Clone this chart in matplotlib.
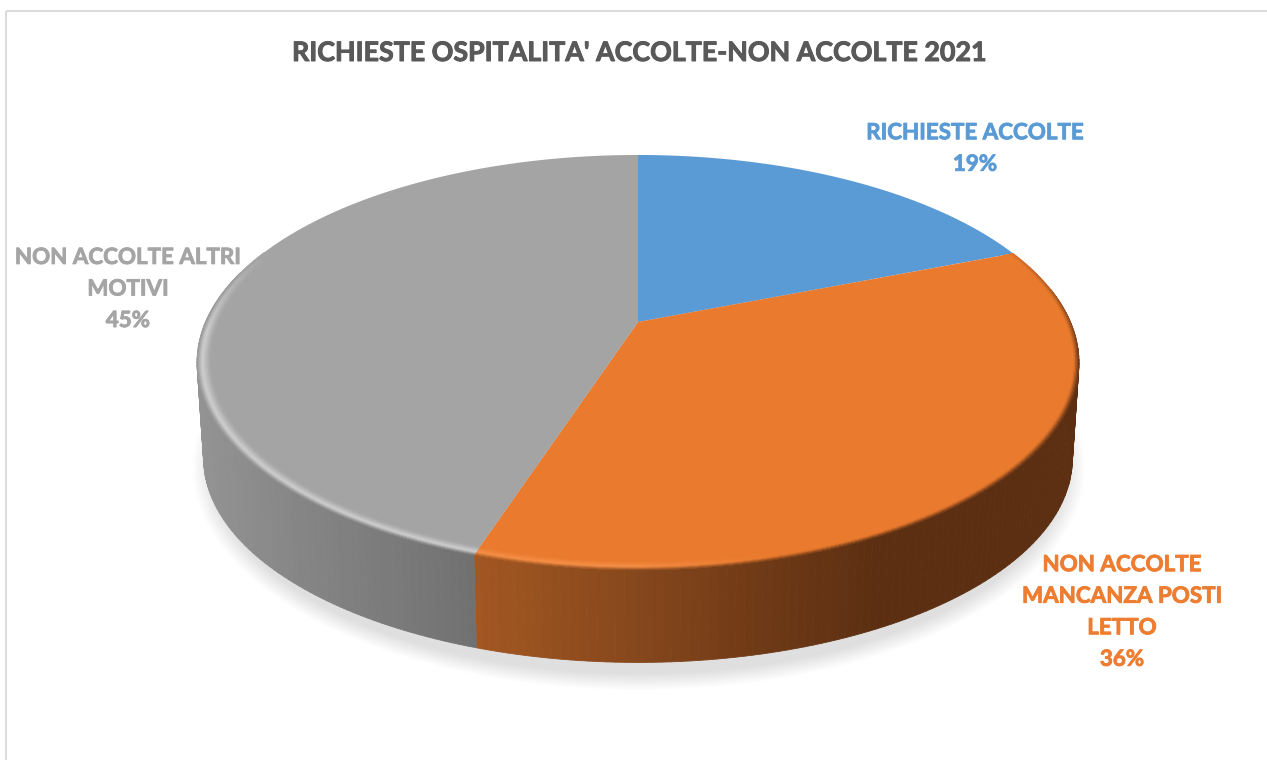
import numpy as np
import matplotlib
matplotlib.use("Agg")
import matplotlib.pyplot as plt
import matplotlib.patheffects as pe
from matplotlib.collections import PolyCollection
from matplotlib.colors import to_rgb
from matplotlib.patches import Ellipse, Rectangle
from matplotlib.path import Path
from matplotlib.transforms import Transform

# ---- data -----------------------------------------------------------------
title = "RICHIESTE OSPITALITA' ACCOLTE-NON ACCOLTE 2021"
labels = ["RICHIESTE ACCOLTE", "NON ACCOLTE\nMANCANZA POSTI\nLETTO", "NON ACCOLTE ALTRI\nMOTIVI"]
values = [19, 36, 45]
colors = ["#5b9bd5", "#e97a2e", "#a4a4a4"]
text_colors = ["#5b9bd5", "#ed7d31", "#a5a5a5"]
label_xy = [(975, 148.5), (1122, 612), (128, 289)]

# ---- projection of the tilted disc (pixels) --------------------------------
CX, CY, AX, BY, K = 638.0, 322.0, 432.5, 199.6, 0.195
ELL_CY = 362.5


def project(u, v):
    w = 1 + K * v
    return CX + AX * u / w, CY - BY * v / w


class Tilt(Transform):
    input_dims = output_dims = 2

    def transform_non_affine(self, xy):
        xy = np.asarray(xy, float)
        x, y = project(xy[:, 0], xy[:, 1])
        return np.column_stack([x, y])

    def transform_path_non_affine(self, path):
        t = np.linspace(0, 1, 30)
        pts = [seg(t) for seg, code in path.iter_bezier() if code != Path.MOVETO]
        return Path(self.transform_non_affine(np.vstack(pts)))


def lower(x, y):
    return CX + 0.985 * (x - CX), ELL_CY + 96 + 0.983 * (y - ELL_CY)


def wall_color(idx, x):
    if idx == 2:
        g = np.interp(x, [198, 300, 478], [0x93, 0x85, 0x70]) / 255
        return (g, g, g)
    xs = [475, 640, 800, 880, 1080]
    return tuple(np.interp(x, xs, c) / 255 for c in
                 ([0xa3, 0x85, 0x68, 0x5c, 0x5c], [0x57, 0x47, 0x36, 0x2f, 0x2f], [0x22, 0x1c, 0x14, 0x12, 0x12]))


def hilite(idx, x):
    if idx == 2:
        return (0.82, 0.82, 0.82)
    f = np.array(to_rgb(colors[1]))
    h = np.array(to_rgb("#f79148"))
    t = np.clip((x - 620) / 160, 0, 1)
    return tuple(h * (1 - t) + f * t)


fig = plt.figure(figsize=(12.67, 7.6), dpi=100, facecolor="white")
ax = fig.add_axes([0, 0, 1, 1])

# ---- shadow ----------------------------------------------------------------
for i in range(16):
    t = i / 15
    ax.add_patch(Ellipse((639, 468), 2 * (446 - 20 * t), 2 * (222 - 16 * t),
                         fc="#000000", ec="none", alpha=0.009, zorder=1))

# ---- top face --------------------------------------------------------------
wedges, _ = ax.pie(values, colors=colors, startangle=90, counterclock=False, radius=1,
                   wedgeprops=dict(linewidth=0, zorder=4))
tilt = Tilt() + ax.transData
for w in wedges:
    w.set_transform(tilt)

# ---- side wall and bevel, split at the slice boundaries --------------------
edges = np.cumsum([0] + values) / sum(values) * 2 * np.pi
wall_polys, wall_cols, rim_polys, rim_cols = [], [], [], []
for idx in (1, 2):
    th = np.arange(edges[idx], edges[idx + 1] + 1e-9, np.radians(1.0))
    th = np.append(th, edges[idx + 1])
    for a, b in zip(th[:-1], th[1:]):
        xa, ya = project(np.sin(a), np.cos(a))
        xb, yb = project(np.sin(b), np.cos(b))
        deg = np.degrees((a + b) / 2)
        xm = (xa + xb) / 2
        if 80 <= deg <= 285:
            lxa, lya = lower(xa, ya)
            lxb, lyb = lower(xb, yb)
            wall_polys.append([(xa, ya), (xb, yb), (lxb, lyb), (lxa, lya)])
            wall_cols.append(wall_color(idx, xm))
        # bevel strength fades away toward the back of the disc
        if idx == 1:
            weight = np.clip((deg - 62) / 38, 0, 1)
        else:
            weight = np.clip((292 - deg) / 25, 0, 1)
        if weight <= 0:
            continue
        face = np.array(to_rgb(colors[idx]))
        wc = np.array(wall_color(idx, xm))
        hc = np.array(hilite(idx, xm))
        ss = np.linspace(0, 1, 11)
        rr = 1.0 - 0.03 * ss
        for s0, s1, r0, r1 in zip(ss[:-1], ss[1:], rr[:-1], rr[1:]):
            pts = []
            for ang, r in ((a, r0), (b, r0), (b, r1), (a, r1)):
                pts.append(project(r * np.sin(ang), r * np.cos(ang)))
            s = (s0 + s1) / 2
            if s < 0.4:
                c = wc * (1 - s / 0.4) + hc * (s / 0.4)
            else:
                c = hc * (1 - (s - 0.4) / 0.6) + face * ((s - 0.4) / 0.6)
            c = face * (1 - weight) + c * weight
            rim_polys.append(pts)
            rim_cols.append(tuple(c))

ax.add_collection(PolyCollection(wall_polys, facecolors=wall_cols, edgecolors=wall_cols,
                                 linewidths=0.6, zorder=3))
ax.add_collection(PolyCollection(rim_polys, facecolors=rim_cols, edgecolors=rim_cols,
                                 linewidths=0.4, zorder=5))

# ---- frame and text --------------------------------------------------------
ax.set_aspect("auto")
ax.set_xlim(0, 1267)
ax.set_ylim(760, 0)
ax.set_axis_off()
ax.add_patch(Rectangle((6, 11), 1400, 900, fc="none", ec="#dcdcdc", lw=1.5, zorder=0))

t = ax.text(638, 53, title, ha="center", va="center", fontsize=19.3, fontweight="bold",
            family="Lato", color="#595959", zorder=6)
t.set_path_effects([pe.withStroke(linewidth=0.7, foreground="#595959")])
total = sum(values)
for lab, val, col, (x, y) in zip(labels, values, text_colors, label_xy):
    t = ax.text(x, y, f"{lab}\n{round(100 * val / total)}%", ha="center", va="center", fontsize=16.1,
                fontweight="bold", family="Lato", color=col, linespacing=1.62, zorder=6)
    t.set_path_effects([pe.withStroke(linewidth=0.6, foreground=col)])

fig.savefig("out.png", dpi=100)
